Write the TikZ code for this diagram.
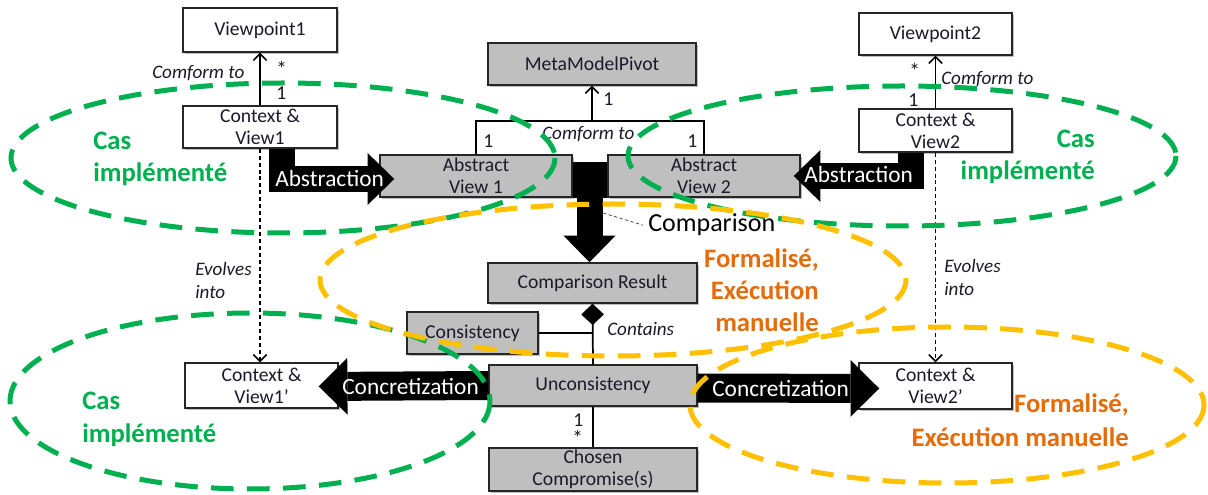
\documentclass[tikz,border=0pt]{standalone}
\usepackage{fontspec}
\setmainfont{Carlito}
\usetikzlibrary{arrows.meta,calc,shadows}
\definecolor{boxgray}{HTML}{BFBFBF}
\definecolor{ggreen}{HTML}{00B050}
\definecolor{gyellow}{HTML}{FFC000}
\definecolor{gorange}{HTML}{E46C0A}
\definecolor{txt}{HTML}{1A1A2A}
\begin{document}
\begin{tikzpicture}[x=0.75pt,y=-0.75pt,
  umlbox/.style={draw=black!85, line width=1.1pt, inner sep=0pt, align=center,
    font=\fontsize{14.75}{16.5}\selectfont, text=txt,
    drop shadow={shadow xshift=1.2pt,shadow yshift=-1.2pt,fill=black,opacity=0.25}},
  wbox/.style={umlbox, fill=white},
  gbox/.style={umlbox, fill=boxgray},
  conn/.style={line width=1.3pt, draw=black},
  dconn/.style={line width=1.1pt, draw=black, dash pattern=on 3pt off 2.2pt},
  openhead/.style={-{Straight Barb[length=5pt,width=10pt,line width=1.1pt]}},
  blockA/.style={line width=19.5pt, draw=black, -{Triangle[length=20pt,width=39pt,line width=0pt]}},
  blockC/.style={line width=21.75pt, draw=black, -{Triangle[length=21.5pt,width=42.5pt,line width=0pt]}},
  lbl/.style={inner sep=0pt, text=txt, font=\fontsize{14.75}{16.5}\selectfont},
  star/.style={inner sep=0pt, text=txt, font=\fontsize{16}{18}\selectfont},
  ilbl/.style={inner sep=0pt, text=txt, font=\fontsize{14.3}{16}\selectfont\itshape},
  wlbl/.style={inner sep=0pt, text=white, font=\fontsize{17.5}{20}\selectfont},
  gtxt/.style={inner sep=0pt, text=ggreen, font=\fontsize{20}{24}\selectfont\bfseries},
  otxt/.style={inner sep=0pt, text=gorange, font=\fontsize{20}{24}\selectfont\bfseries},
  gdash/.style={draw=ggreen, line width=3.75pt, dash pattern=on 17pt off 10pt},
  ydash/.style={draw=gyellow, line width=3.75pt, dash pattern=on 17pt off 10pt},
  leader/.style={draw=black!70, line width=0.6pt, dash pattern=on 2.5pt off 1.8pt}
]
\fill[white] (0,0) rectangle (1208,495);
\useasboundingbox (0,0) rectangle (1208,495);

% boxes
\node[wbox, minimum width=115.5pt, minimum height=33pt] (vp1) at (260,30) {Viewpoint1};
\node[wbox, minimum width=115.5pt, minimum height=31.5pt] (cv1) at (260,127) {Context \&\\View1};
\node[wbox, minimum width=114.75pt, minimum height=31.5pt] (vp2) at (935.5,34) {Viewpoint2};
\node[wbox, minimum width=114.75pt, minimum height=32.25pt] (cv2) at (935.5,130.5) {Context \&\\View2};
\node[gbox, minimum width=156pt, minimum height=31.5pt] (mmp) at (592,64) {MetaModelPivot};
\node[gbox, minimum width=144pt, minimum height=31.5pt] (av1) at (476,176) {Abstract\\View 1};
\node[gbox, minimum width=144pt, minimum height=31.5pt] (av2) at (704,176) {Abstract\\View 2};
\node[gbox, minimum width=156.75pt, minimum height=30pt] (cr) at (592.5,283) {Comparison Result};
\node[gbox, minimum width=98.25pt, minimum height=31.5pt] (cons) at (472.5,333) {Consistency};
\node[gbox, minimum width=156pt, minimum height=30.75pt] (uc) at (593,385.5) {Unconsistency};
\node[gbox, minimum width=156pt, minimum height=32.25pt] (cc) at (593,469.5) {Chosen\\Compromise(s)};
\node[wbox, minimum width=114.75pt, minimum height=33.75pt] (cv1p) at (261.5,385.5) {Context \&\\View1’};
\node[wbox, minimum width=114.75pt, minimum height=34.5pt] (cv2p) at (935.5,386) {Context \&\\View2’};

% conform-to connectors
\draw[conn, openhead] (cv1.north) -- (vp1.south);
\draw[conn, openhead] (cv2.north) -- (vp2.south);
\coordinate (bj) at ($(mmp.south)+(0,35)$);
\draw[conn] (av1.north) |- (bj) -| (av2.north);
\draw[conn, openhead] (bj) -- (mmp.south);

% contains
\draw[conn, {Diamond[length=16pt,width=17pt,line width=0pt]}-] (cr.south) -- (uc.north);
\draw[conn] (cons.east) -- (cons.east -| cr.south);
\draw[conn] (uc.south) -- (cc.north);

% evolves into
\draw[dconn, openhead] (cv1.south) -- (cv1.south |- cv1p.north);
\draw[dconn, openhead] (cv2.south) -- (cv2.south |- cv2p.north);

% block arrows
\draw[blockA] ($(cv1.south)+(22,0)$) |- ($(av1.west)+(15,3)$);
\draw[blockA] ($(cv2.south)+(-24.5,0)$) |- ($(av2.east)+(-7,0)$);
\fill[black] (av1.east |- 0,162) rectangle (av2.south west);
\draw[blockA] ($(cr.north |- av1.south)+(-3,0)$) -- ($(cr.north)+(-3,0)$);
\draw[blockC] (uc.west) -- ($(cv1p.east)+(-20,1)$);
\draw[blockC] ($(uc.east)+(0,2.5)$) -- ($(cv2p.west)+(21,2.5)$);

% block arrow labels
\node[wlbl, anchor=base west] (abs1) at (275,187) {Abstraction};
\node[wlbl, anchor=base west] (abs2) at (804,183) {Abstraction};
\node[wlbl, anchor=base west] (con1) at (342,395) {Concretization};
\node[wlbl, anchor=base west] (con2) at (712,397) {Concretization};
\node[inner sep=0pt, text=black, font=\fontsize{19.5}{22}\selectfont, anchor=base west] (cmp) at (648,232) {Comparison};
\draw[leader] (603,213) -- ($(cmp.west)+(-5,0)$);

% multiplicities and role labels
\node[star, anchor=base west] (m1a) at (276,77) {*};
\node[lbl, anchor=base west] (m1b) at (276,100) {1};
\node[ilbl, anchor=base west] (cf1) at (152,79) {Comform to};
\node[star, anchor=base west] (m2a) at (909,79) {*};
\node[lbl, anchor=base west] (m2b) at (908,107) {1};
\node[ilbl, anchor=base west] (cf2) at (941,85) {Comform to};
\node[lbl, anchor=base west] (m3) at (603,106) {1};
\node[lbl, anchor=base west] (m4) at (483,148) {1};
\node[lbl, anchor=base west] (m5) at (687,148) {1};
\node[ilbl, anchor=base west] (cf3) at (542,140) {Comform to};
\node[ilbl, anchor=base west] (ctn) at (607,336) {Contains};
\node[lbl, anchor=base west] (m6) at (573,427) {1};
\node[star, anchor=base west] (m7) at (572,446) {*};
\node[ilbl, anchor=base west] (ev1) at (195,276) {Evolves};
\node[ilbl, anchor=base west] (ev1b) at (195,299) {into};
\node[ilbl, anchor=base west] (ev2) at (944,273) {Evolves};
\node[ilbl, anchor=base west] (ev2b) at (944,296) {into};

% area captions
\node[gtxt, anchor=base west] (g1a) at (93,150) {Cas};
\node[gtxt, anchor=base west] (g1b) at (93,182) {implémenté};
\node[gtxt, anchor=base east] (g2a) at (1095,148) {Cas};
\node[gtxt, anchor=base east] (g2b) at (1095,180) {implémenté};
\node[gtxt, anchor=base west] (g3a) at (82,410) {Cas};
\node[gtxt, anchor=base west] (g3b) at (82,443) {implémenté};
\node[otxt, anchor=base east] (o1a) at (819,268) {Formalisé,};
\node[otxt, anchor=base east] (o1b) at (819,300) {Exécution};
\node[otxt, anchor=base east] (o1c) at (819,332) {manuelle};
\node[otxt, anchor=base east] (o2a) at (1129,413) {Formalisé,};
\node[otxt, anchor=base east] (o2b) at (1129,447) {Exécution manuelle};

% dashed areas
\draw[gdash] (283,158) ellipse [x radius=272, y radius=75];
\draw[gdash] (902,156) ellipse [x radius=274, y radius=70];
\draw[gdash] (250,401) ellipse [x radius=240, y radius=88];
\draw[ydash] (613,280) ellipse [x radius=293, y radius=76];
\draw[ydash] (947,405) ellipse [x radius=257, y radius=78];
\end{tikzpicture}
\end{document}
